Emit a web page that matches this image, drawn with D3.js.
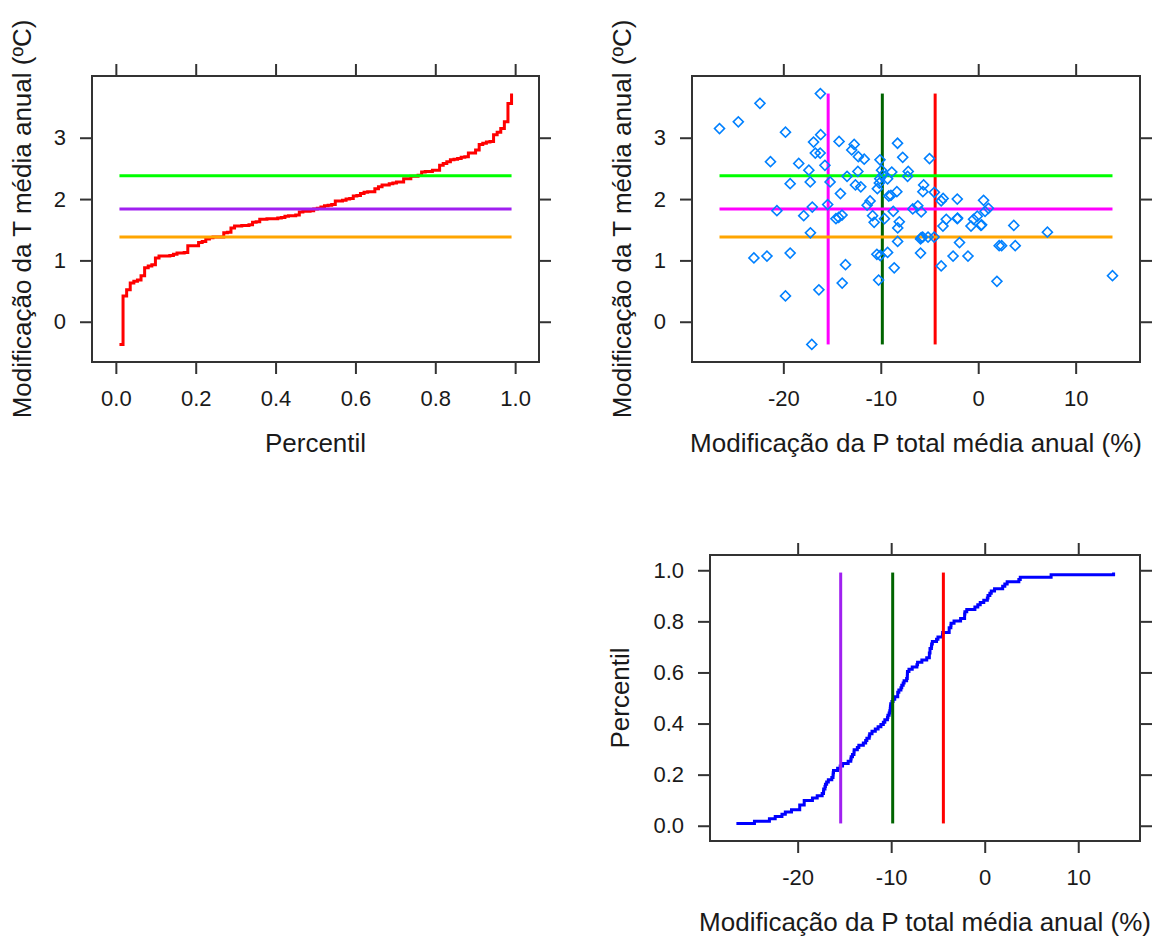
<!DOCTYPE html>
<html>
<head>
<meta charset="utf-8">
<script src="https://cdn.jsdelivr.net/npm/d3@7"></script>
<style>
body { margin: 0; background: #fff; }
svg { display: block; font-family: "Liberation Sans", Arial, sans-serif; }
.box { fill: none; stroke: #333; stroke-width: 2; }
.axis text { font-size: 22px; fill: #1a1a1a; }
.axis line { stroke: #333; stroke-width: 2; }
.axis-label { font-size: 26px; fill: #1a1a1a; text-anchor: middle; }
.curve, .ref { fill: none; stroke-width: 3; }
.pt { fill: none; stroke: #0080ff; stroke-width: 1.6; }
</style>
</head>
<body>
<svg id="chart" width="1156" height="937"></svg>
<script>
// change in mean annual precipitation (%) and temperature (ºC), one pair per model run
var pChange = [-26.55, -24.62, -22.40, -16.20, -19.78, -21.32, -19.30, -18.42, -20.66, -17.91,
    -17.38, -17.24, -17.03, -17.22, -16.90, -16.72, -16.22, -16.17, -15.73, -15.20,
    -15.45, -14.28, -13.46, -14.14, -14.60, -14.32, -13.98, -12.73, -12.98, -12.30,
    -11.70, -12.35, -12.60, -12.05, -11.10, -11.40, -10.84, -10.68, -10.08, -9.92,
    -10.10, -9.80, -10.35, -10.15, -9.18, -8.96, -9.30, -8.87, -8.28, -7.75,
    -8.35, -8.72, -9.62, -8.10, -8.26, -8.27, -7.18, -7.25, -6.72, -6.20,
    -5.85, -5.60, -5.68, -5.00, -5.92, -5.70, -5.15, -4.52, -4.50, -3.80,
    -3.60, -3.28, -3.62, -5.92, -3.80, -2.58, -1.05, -2.15, -2.15, -1.92,
    -0.74, -0.48, 0.28, 0.55, 0.70, 1.05, -0.10, 2.15, 2.40, 3.65,
    3.80, 7.10, 1.92, 13.78, -23.02, -21.68, -19.30, -19.78, -16.35, -13.62,
    -13.96, -17.08, -10.40, -10.05, -9.30, -8.62, -10.22, -2.12, 0.35, -5.85]
var tChange = [3.15, 3.26, 3.56, 3.72, 3.09, 2.61, 2.25, 2.58, 1.81, 1.73,
    2.47, 2.28, 1.87, 1.45, 2.93, 2.75, 2.75, 3.05, 2.55, 2.28,
    1.91, 2.94, 2.37, 2.09, 1.68, 1.70, 1.74, 2.89, 2.80, 2.69,
    2.65, 2.45, 2.23, 2.20, 1.97, 1.90, 1.73, 1.62, 2.64, 2.47,
    2.33, 2.39, 2.17, 2.26, 2.05, 2.06, 2.33, 2.44, 2.91, 2.68,
    2.12, 1.80, 1.68, 1.63, 1.53, 1.31, 2.45, 2.37, 1.84, 1.89,
    1.79, 2.23, 2.12, 2.66, 1.35, 1.38, 1.38, 1.38, 2.11, 1.97,
    2.01, 1.67, 1.56, 1.12, 0.91, 1.07, 1.07, 2.00, 1.68, 1.29,
    1.56, 1.67, 1.57, 1.98, 1.80, 1.85, 1.72, 1.24, 1.24, 1.57,
    1.24, 1.46, 0.66, 0.75, 1.04, 1.07, 1.12, 0.42, 0.52, 0.93,
    0.63, -0.37, 1.10, 1.08, 1.13, 0.88, 0.68, 1.69, 1.58, 1.37]

// quartiles (25, 50, 75 %) drawn as reference lines
var tQuartiles = [1.38, 1.84, 2.38]
var pQuartiles = [-15.40, -9.84, -4.42]

var percentileTicks = [0, 0.2, 0.4, 0.6, 0.8, 1.0]
var tTicks = [0, 1, 2, 3]
var pTicks = [-20, -10, 0, 10]

var labelT = 'Modificação da T média anual (ºC)'
var labelP = 'Modificação da P total média anual (%)'
var labelPerc = 'Percentil'

var svg = d3.select('#chart')

var n = tChange.length
var tRank = tChange.slice().sort(d3.ascending).map((v, i) => ({p: (i + 1) / (n + 1), v: v}))
var pRank = pChange.slice().sort(d3.ascending).map((v, i) => ({p: (i + 1) / (n + 1), v: v}))
var percExtent = [1 / (n + 1), n / (n + 1)]
var tExtent = d3.extent(tChange)
var pExtent = d3.extent(pChange)

// lattice pads the data range by 7% on each side
function padded(ext) {
    var r = ext[1] - ext[0]
    return [ext[0] - 0.07 * r, ext[1] + 0.07 * r]
}

function fmt1(d) { return d.toFixed(1) }
function fmt0(d) { return String(d) }

// frame: box, ticks on all four sides, labels left and bottom
function panel(box, xDomain, yDomain, xTicks, yTicks, xFmt, yFmt, xLabel, yLabel, yLabelGap) {
    var x = d3.scaleLinear().domain(xDomain).range([box.left, box.right])
    var y = d3.scaleLinear().domain(yDomain).range([box.bottom, box.top])
    var g = svg.append('g')

    g.append('g').attr('class', 'axis').attr('color', '#333')
        .attr('transform', 'translate(0,' + box.bottom + ')')
        .call(d3.axisBottom(x).tickValues(xTicks).tickSize(12).tickPadding(16).tickFormat(xFmt))
    g.append('g').attr('class', 'axis').attr('color', '#333')
        .attr('transform', 'translate(0,' + box.top + ')')
        .call(d3.axisTop(x).tickValues(xTicks).tickSize(12).tickFormat(''))
    g.append('g').attr('class', 'axis').attr('color', '#333')
        .attr('transform', 'translate(' + box.left + ',0)')
        .call(d3.axisLeft(y).tickValues(yTicks).tickSize(12).tickPadding(14).tickFormat(yFmt))
    g.append('g').attr('class', 'axis').attr('color', '#333')
        .attr('transform', 'translate(' + box.right + ',0)')
        .call(d3.axisRight(y).tickValues(yTicks).tickSize(12).tickFormat(''))
    g.selectAll('.axis .domain').remove()

    g.append('rect').attr('class', 'box')
        .attr('x', box.left).attr('y', box.top)
        .attr('width', box.right - box.left).attr('height', box.bottom - box.top)

    g.append('text').attr('class', 'axis-label')
        .attr('x', (box.left + box.right) / 2).attr('y', box.bottom + 90)
        .text(xLabel)
    g.append('text').attr('class', 'axis-label')
        .attr('transform', 'translate(' + (box.left - yLabelGap) + ',' + (box.top + box.bottom) / 2 + ') rotate(-90)')
        .text(yLabel)

    return {g: g, x: x, y: y}
}

// top left: T against percentile
;(function() {
    var p = panel({left: 92, right: 539, top: 76, bottom: 362},
        padded(percExtent), padded(tExtent), percentileTicks, tTicks, fmt1, fmt0,
        labelPerc, labelT, 61)
    var line = d3.line().x(d => p.x(d.p)).y(d => p.y(d.v)).curve(d3.curveStepAfter)
    p.g.append('path').datum(tRank).attr('class', 'curve').attr('stroke', '#ff0000').attr('d', line)
    var colors = ['#ffa500', '#a020f0', '#00ff00']
    tQuartiles.forEach(function(q, i) {
        p.g.append('line').attr('class', 'ref').attr('stroke', colors[i])
            .attr('x1', p.x(percExtent[0])).attr('x2', p.x(percExtent[1]))
            .attr('y1', p.y(q)).attr('y2', p.y(q))
    })
})()

// top right: scatter of T against P
;(function() {
    var p = panel({left: 692, right: 1140, top: 76, bottom: 362},
        padded(pExtent), padded(tExtent), pTicks, tTicks, fmt0, fmt0,
        labelP, labelT, 61)
    var vColors = ['#ff00ff', '#006400', '#ff0000']
    pQuartiles.forEach(function(q, i) {
        p.g.append('line').attr('class', 'ref').attr('stroke', vColors[i])
            .attr('x1', p.x(q)).attr('x2', p.x(q))
            .attr('y1', p.y(tExtent[0])).attr('y2', p.y(tExtent[1]))
    })
    var hColors = ['#ffa500', '#ff00ff', '#00ff00']
    tQuartiles.forEach(function(q, i) {
        p.g.append('line').attr('class', 'ref').attr('stroke', hColors[i])
            .attr('x1', p.x(pExtent[0])).attr('x2', p.x(pExtent[1]))
            .attr('y1', p.y(q)).attr('y2', p.y(q))
    })
    var diamond = d3.symbol(d3.symbolSquare, 50)
    p.g.selectAll('.pt').data(pChange).enter().append('path')
        .attr('class', 'pt')
        .attr('d', diamond)
        .attr('transform', (d, i) => 'translate(' + p.x(d) + ',' + p.y(tChange[i]) + ') rotate(45)')
})()

// bottom right: percentile against P
;(function() {
    var p = panel({left: 710, right: 1140, top: 555, bottom: 841},
        padded(pExtent), padded(percExtent), pTicks, percentileTicks, fmt0, fmt1,
        labelP, labelPerc, 81)
    var line = d3.line().x(d => p.x(d.v)).y(d => p.y(d.p)).curve(d3.curveStepAfter)
    p.g.append('path').datum(pRank).attr('class', 'curve').attr('stroke', '#0000ff').attr('d', line)
    var colors = ['#a020f0', '#006400', '#ff0000']
    pQuartiles.forEach(function(q, i) {
        p.g.append('line').attr('class', 'ref').attr('stroke', colors[i])
            .attr('x1', p.x(q)).attr('x2', p.x(q))
            .attr('y1', p.y(percExtent[0])).attr('y2', p.y(percExtent[1]))
    })
})()
</script>
</body>
</html>
